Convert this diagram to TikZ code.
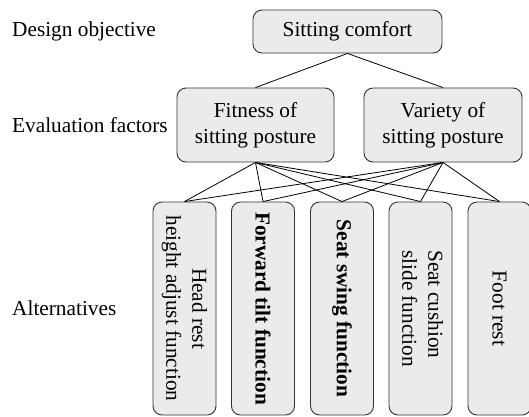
\documentclass[tikz,border=0pt]{standalone}
\usepackage{fontspec}
\setmainfont{Liberation Serif}
\usepackage{graphicx}
\begin{document}
\begin{tikzpicture}[x=1pt,y=-1pt,
  every node/.style={font=\fontsize{21.3}{26}\selectfont},
  box/.style={draw=black!80, line width=0.9pt, fill=black!8, rounded corners=9pt, inner sep=0pt, align=center},
  lbl/.style={anchor=west, inner sep=0pt},
  conn/.style={line width=0.8pt, black}]
\useasboundingbox (0,0) rectangle (529,416);
\clip (0,0) rectangle (529,416);
% level labels
\node[lbl] (l1) at (12,31) {Design objective};
\node[lbl] (l2) at (12,125) {Evaluation factors};
\node[lbl] (l3) at (12,308) {Alternatives};
% boxes
\node[box, minimum width=189pt, minimum height=43pt] (top) at (347.5,31.5) {Sitting comfort};
\node[box, minimum width=157pt, minimum height=74pt] (fit) at (255.5,125) {Fitness of\\sitting posture};
\node[box, minimum width=158pt, minimum height=74pt] (var) at (443,125) {Variety of\\sitting posture};
\node[box, minimum width=63pt, minimum height=213pt] (b1) at (184.5,308.5) {\rotatebox{-90}{\begin{tabular}{@{}c@{}}Head rest\\height adjust function\end{tabular}}};
\node[box, minimum width=63pt, minimum height=213pt] (b2) at (263,308.5) {\rotatebox{-90}{\textbf{Forward tilt function}}};
\node[box, minimum width=63pt, minimum height=213pt] (b3) at (342,308.5) {\rotatebox{-90}{\textbf{Seat swing function}}};
\node[box, minimum width=63pt, minimum height=213pt] (b4) at (420.5,308.5) {\rotatebox{-90}{\begin{tabular}{@{}l@{}}Seat cushion\\slide function\end{tabular}}};
\node[box, minimum width=63pt, minimum height=213pt] (b5) at (499.5,308.5) {\rotatebox{-90}{Foot rest}};
% connectors
\draw[conn] (top.south) -- (fit.north);
\draw[conn] (top.south) -- (var.north);
\foreach \b in {b1,b2,b3,b4,b5}{
  \draw[conn] (fit.south) -- (\b.north);
  \draw[conn] (var.south) -- (\b.north);
}
\end{tikzpicture}
\end{document}
